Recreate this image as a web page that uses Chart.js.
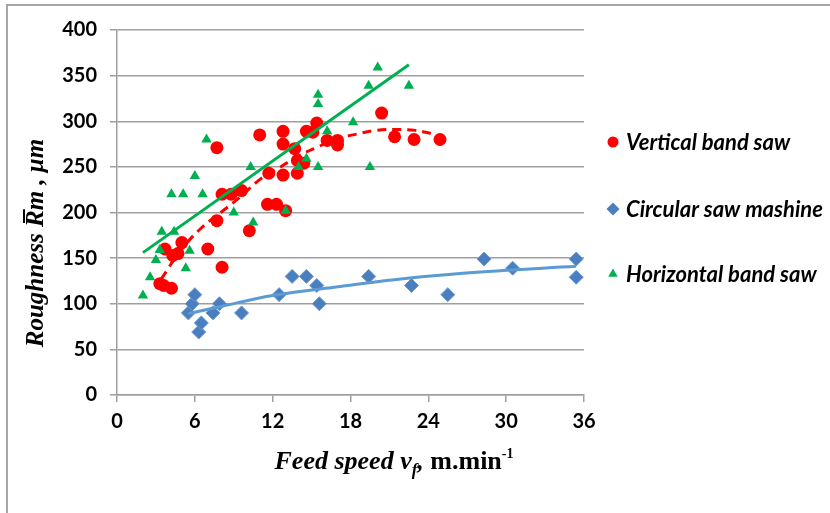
<!DOCTYPE html>
<html>
<head>
<meta charset="utf-8">
<script src="https://cdn.jsdelivr.net/npm/chart.js@4.4.1/dist/chart.umd.min.js"></script>
<style>
  html,body{margin:0;padding:0;background:#fff;}
  #c{display:block;}
</style>
</head>
<body>
<canvas id="c" width="830" height="513"></canvas>
<script>
// ---- data ----
const seriesNames = ["Vertical band saw", "Circular saw mashine", "Horizontal band saw"];

const vertX = [3.3,3.6,4.2,3.7,4.3,4.7,5.0,7.0,8.1,7.7,10.2,7.7,8.1,8.8,9.6,11.6,12.3,13.0,11.0,11.7,12.8,12.8,12.8,13.7,13.9,14.4,13.9,14.6,15.1,15.4,16.2,17.0,17.0,20.4,21.4,22.9,24.9];
const vertY = [122,120,117,160,153,155,167,160,140,191,180,271,220,220,224,209,209,202,285,243,241,289,275,270,257,254,243,289,288,298,279,279,274,309,283,280,280];

const circX = [5.5,5.8,6.0,6.3,6.5,7.4,7.9,9.6,12.5,13.5,14.6,15.4,15.6,19.4,22.7,25.5,28.3,30.5,35.4,35.4];
const circY = [90,100,110,69,79,90,100,90,110,130,130,120,100,130,120,110,149,139,149,129];

const horX = [2.0,2.55,3.0,3.3,3.45,4.4,5.3,5.6,4.2,5.1,6.6,6.0,6.9,9.0,10.5,10.3,13.0,14.0,14.6,15.5,15.5,15.5,16.2,18.2,19.4,20.1,22.5,19.5];
const horY = [109,129,148,159,179,179,139,158,220,220,220,240,280,200,189,250,202,250,259,250,329,319,289,299,339,359,339,250];

// trend lines
const vertTrendX = [3.4,5,6.5,8,9.5,11,12.5,14,15.5,17,18.5,20,21.5,23,24.4];
const vertTrendY = [127,160,183,200,217,236,249,262,272,281,286,290,291,290,286];
const circTrendX = [5.5,8,12,17.2,22.4,28.3,35.4];
const circTrendY = [89,97,109,119,128,135,141];
const horTrendX = [2.0,22.5];
const horTrendY = [156,362];

const xTickValues = [0,6,12,18,24,30,36];
const yTickValues = [0,50,100,150,200,250,300,350,400];

// ---- build ----
function pts(xs, ys){ return xs.map((x,i)=>({x:x, y:ys[i]})); }

const RED = '#FF0000', BLUE = '#4A7EBF', BLUE_LINE = '#5B9BD5', GREEN = '#00B050', GRID = '#9f9f9f';

const datasets = [
  {label: seriesNames[0], data: pts(vertX, vertY), pointStyle:'circle', pointRadius:6.5,
   backgroundColor: RED, borderColor: RED, borderWidth:0, order:5, showLine:false},
  {label: seriesNames[1], data: pts(circX, circY), pointStyle:'rectRot', pointRadius:7,
   backgroundColor: BLUE, borderColor: '#6A9AD3', borderWidth:1, order:4, showLine:false},
  {label: seriesNames[2], data: pts(horX, horY), pointStyle:'triangle', pointRadius:6,
   backgroundColor: GREEN, borderColor: GREEN, borderWidth:0, order:3, showLine:false},
  {label: 'trend1', data: pts(vertTrendX, vertTrendY), showLine:true, pointRadius:0, pointHoverRadius:0,
   borderColor: RED, borderWidth:3, borderDash:[9,6], tension:0.4, order:1, fill:false},
  {label: 'trend2', data: pts(circTrendX, circTrendY), showLine:true, pointRadius:0, pointHoverRadius:0,
   borderColor: BLUE_LINE, borderWidth:3, tension:0.4, order:1, fill:false},
  {label: 'trend3', data: pts(horTrendX, horTrendY), showLine:true, pointRadius:0, pointHoverRadius:0,
   borderColor: GREEN, borderWidth:3, tension:0, order:1, fill:false}
];

const decorPlugin = {
  id: 'decor',
  afterDraw(chart){
    const ctx = chart.ctx;
    ctx.save();
    // frame lines
    ctx.strokeStyle = '#a6a6a6';
    ctx.lineWidth = 2;
    ctx.beginPath();
    ctx.moveTo(7, 513); ctx.lineTo(7, 5); ctx.lineTo(830, 5);
    ctx.stroke();

    // legend
    const legY = [142, 209, 274];
    const legR = [5.5, 6.5, 5.5];
    for (let i = 0; i < 3; i++) {
      const ds = chart.data.datasets[i];
      const opts = {pointStyle: ds.pointStyle, radius: legR[i], rotation: 0, borderWidth: 0};
      ctx.fillStyle = ds.backgroundColor;
      ctx.strokeStyle = ds.backgroundColor;
      Chart.helpers.drawPoint(ctx, opts, 613, legY[i]);
      ctx.fillStyle = '#000';
      ctx.font = 'italic bold 22px Lato';
      ctx.textBaseline = 'middle';
      ctx.textAlign = 'left';
      ctx.fillText(ds.label, 626, legY[i] + 1);
    }

    // y title
    ctx.fillStyle = '#000';
    ctx.textBaseline = 'alphabetic';
    ctx.textAlign = 'left';
    ctx.font = 'italic bold 25px "Liberation Serif"';
    const p1 = 'Roughness ', p2 = 'R', p3 = 'm , \u03BCm';
    const w1 = ctx.measureText(p1).width, w2 = ctx.measureText(p2).width, w3 = ctx.measureText(p3).width;
    const tot = w1 + w2 + w3;
    ctx.save();
    ctx.translate(43, 243);
    ctx.rotate(-Math.PI/2);
    let sx = -tot/2;
    ctx.fillText(p1, sx, 0);
    ctx.fillText(p2, sx + w1, 0);
    ctx.fillText(p3, sx + w1 + w2, 0);
    ctx.lineWidth = 2;
    ctx.strokeStyle = '#000';
    ctx.beginPath();
    ctx.moveTo(sx + w1 + 4, -19);
    ctx.lineTo(sx + w1 + w2 + 1, -19);
    ctx.stroke();
    ctx.restore();

    // x title
    const fI = 'italic bold 26px "Liberation Serif"';
    const fSub = 'italic bold 17px "Liberation Serif"';
    const fB = 'bold 26px "Liberation Serif"';
    const fSup = 'bold 14px "Liberation Serif"';
    const parts = [
      {t:'Feed speed v', f:fI, dy:0},
      {t:'f', f:fSub, dy:6},
      {t:',', f:fI, dy:0},
      {t:' m.min', f:fB, dy:0},
      {t:'-1', f:fSup, dy:-11}
    ];
    let total = 0;
    parts.forEach(p => { ctx.font = p.f; p.w = ctx.measureText(p.t).width; total += p.w; });
    let x = 394 - total/2;
    const base = 469;
    parts.forEach(p => { ctx.font = p.f; ctx.fillText(p.t, x, base + p.dy); x += p.w; });
    ctx.restore();
  }
};

new Chart(document.getElementById('c'), {
  type: 'scatter',
  data: { datasets: datasets },
  options: {
    responsive: false,
    animation: false,
    devicePixelRatio: 1,
    layout: { padding: { top: 30, right: 246, bottom: 0, left: 0 } },
    plugins: { legend: { display: false }, tooltip: { enabled: false } },
    scales: {
      x: {
        type: 'linear',
        min: xTickValues[0], max: xTickValues[xTickValues.length-1],
        afterBuildTicks(s){ s.ticks = xTickValues.map(v => ({value: v})); },
        afterFit(s){ s.height = 118; },
        ticks: { font: { family: 'Lato', weight: 'bold', size: 20 }, color: '#000', padding: 8, maxRotation: 0 },
        grid: { drawOnChartArea: false, drawTicks: true, tickLength: 7, color: GRID, lineWidth: 1.5 },
        border: { display: true, color: GRID, width: 1.5 }
      },
      y: {
        type: 'linear',
        min: yTickValues[0], max: yTickValues[yTickValues.length-1],
        afterBuildTicks(s){ s.ticks = yTickValues.map(v => ({value: v})); },
        afterFit(s){ s.width = 117; },
        ticks: { font: { family: 'Lato', weight: 'bold', size: 20 }, color: '#000', padding: 13 },
        grid: { drawTicks: true, tickLength: 7, color: GRID, lineWidth: 1.5 },
        border: { display: true, color: GRID, width: 1.5 }
      }
    }
  },
  plugins: [decorPlugin]
});
</script>
</body>
</html>
